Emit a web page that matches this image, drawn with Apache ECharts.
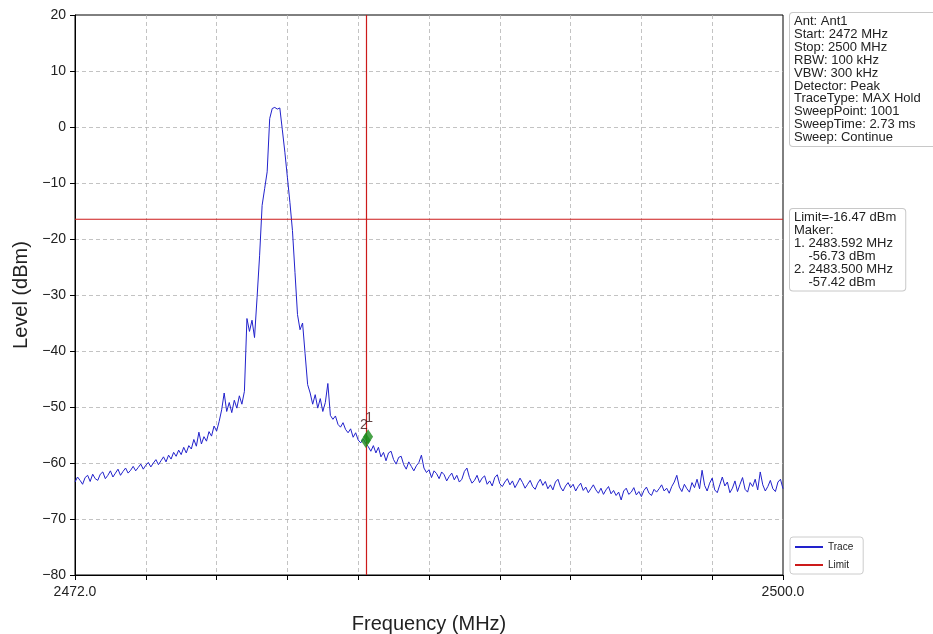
<!DOCTYPE html>
<html>
<head>
<meta charset="utf-8">
<script src="https://cdn.jsdelivr.net/npm/echarts@6/dist/echarts.min.js"></script>
<style>html,body{margin:0;padding:0;background:#fff}#c{width:933px;height:634px}</style>
</head>
<body>
<div id="c"></div>
<script>
// ---- data ----
const freqStart = 2472.0;
const freqStep = 0.1; // MHz between trace samples
const traceLevels = [
-63.4,-62.5,-63.1,-63.8,-62.6,-62.2,-63.3,-62.0,-62.8,-63.1,
-62.0,-61.6,-62.8,-62.2,-61.4,-62.5,-61.8,-61.1,-62.2,-61.5,
-60.9,-61.8,-61.3,-60.6,-61.4,-60.8,-60.2,-61.1,-60.4,-59.9,
-60.7,-60.0,-59.4,-60.3,-59.6,-58.9,-59.8,-58.6,-59.3,-58.1,
-58.8,-57.7,-58.5,-57.2,-58.2,-56.9,-57.5,-55.8,-57.0,-54.5,
-56.6,-55.3,-56.1,-54.4,-55.2,-53.4,-54.3,-52.6,-50.5,-47.5,
-50.8,-49.2,-51.0,-48.8,-50.2,-48.0,-49.5,-47.2,-34.2,-36.5,
-34.5,-37.6,-30.5,-23.0,-14.0,-11.0,-8.0,1.5,3.3,3.5,
3.2,3.4,-0.5,-4.5,-9.0,-13.5,-18.5,-26.0,-33.5,-36.2,
-35.0,-40.5,-46.0,-47.5,-49.5,-47.8,-50.2,-48.5,-50.8,-49.2,
-45.8,-51.5,-52.2,-51.6,-53.1,-53.6,-52.8,-54.0,-54.6,-53.9,
-55.4,-54.6,-55.9,-56.4,-55.7,-56.5,-57.1,-57.9,-56.9,-58.2,
-57.2,-58.9,-58.1,-59.6,-58.2,-57.9,-59.4,-60.2,-59.0,-58.8,
-60.3,-61.1,-59.8,-60.6,-61.4,-60.5,-59.9,-58.6,-60.9,-61.7,
-61.2,-62.6,-61.4,-61.9,-62.8,-61.6,-62.1,-63.2,-62.4,-61.8,
-63.0,-62.2,-63.4,-62.9,-61.5,-60.9,-62.6,-63.6,-63.1,-62.2,
-63.5,-62.7,-62.3,-63.8,-63.2,-64.1,-62.6,-62.1,-63.7,-64.2,
-63.4,-62.8,-63.9,-63.2,-64.4,-63.6,-62.7,-63.5,-64.5,-63.8,
-63.1,-64.2,-64.7,-63.6,-62.9,-64.0,-63.3,-64.6,-63.9,-64.8,
-63.4,-62.9,-64.3,-65.0,-64.1,-63.5,-64.4,-63.8,-65.0,-64.2,
-63.6,-64.9,-64.3,-65.3,-64.6,-63.9,-64.8,-65.4,-64.5,-65.6,
-64.8,-64.2,-65.5,-64.9,-65.8,-65.2,-66.6,-65.0,-64.5,-65.6,
-65.2,-64.4,-65.7,-65.1,-66.0,-64.9,-64.3,-65.4,-65.8,-64.7,
-65.2,-64.6,-63.9,-65.0,-64.5,-65.4,-64.2,-63.4,-62.2,-64.3,
-65.1,-63.8,-64.6,-65.2,-63.5,-64.4,-62.9,-64.6,-61.3,-64.0,
-65.0,-63.6,-62.7,-64.8,-65.3,-63.9,-62.5,-64.1,-63.4,-65.3,
-64.5,-63.2,-65.1,-63.8,-62.6,-64.7,-65.2,-63.5,-64.2,-62.9,
-64.8,-61.6,-63.9,-65.0,-64.2,-63.1,-64.6,-65.1,-63.4,-62.9,
-64.6
];
const limitLevel = -16.47;
const markerFreqLine = 2483.5;
const markerNames = ['1', '2'];
const markerFreqs = [2483.592, 2483.500];
const markerLevels = [-56.73, -57.42];
const xMin = 2472, xMax = 2500;
const xTickLabels = ['2472.0', '', '', '', '', '', '', '', '', '', '2500.0'];
const yMin = -80, yMax = 20, yStep = 10;
const infoLines = ['Ant: Ant1', 'Start: 2472 MHz', 'Stop: 2500 MHz', 'RBW: 100 kHz', 'VBW: 300 kHz',
  'Detector: Peak', 'TraceType: MAX Hold', 'SweepPoint: 1001', 'SweepTime: 2.73 ms', 'Sweep: Continue'];
const limitLines = ['Limit=-16.47 dBm', 'Maker:', '1. 2483.592 MHz', '    -56.73 dBm', '2. 2483.500 MHz', '    -57.42 dBm'];

// ---- build ----
const traceData = traceLevels.map((v, i) => [+(freqStart + i * freqStep).toFixed(2), v]);
const markerLabelOffsets = [[1, -3], [-2, 0]];
const markerData = markerFreqs.map((f, i) => ({
  value: [f, markerLevels[i]], name: markerNames[i],
  label: { offset: markerLabelOffsets[i] }
}));
const FONT = '"Liberation Sans", Arial, sans-serif';
const gridLine = { show: true, showMinLine: false, showMaxLine: false, lineStyle: { color: '#b4b4b4', type: [4, 3], width: 0.8 } };

const chart = echarts.init(document.getElementById('c'), null, { renderer: 'canvas' });
chart.setOption({
  backgroundColor: '#fff',
  animation: false,
  grid: { left: 75, right: 150, top: 15, bottom: 59, containLabel: false, outerBoundsMode: 'none',
    show: true, borderColor: '#000', borderWidth: 1, backgroundColor: 'transparent' },
  xAxis: [
    { type: 'value', min: xMin, max: xMax, show: false },
    {
      type: 'value', min: 0, max: xTickLabels.length - 1, interval: 1, position: 'bottom',
      axisLine: { show: true, lineStyle: { color: '#000', width: 1 } },
      axisTick: { show: true, inside: false, length: 5, lineStyle: { color: '#000' } },
      axisLabel: { color: '#222', fontFamily: FONT, fontSize: 14, margin: 10, formatter: v => xTickLabels[Math.round(v)] || '' },
      splitLine: gridLine,
      name: 'Frequency (MHz)', nameLocation: 'middle', nameGap: 39,
      nameTextStyle: { color: '#222', fontFamily: FONT, fontSize: 20 }
    }
  ],
  yAxis: {
    type: 'value', min: yMin, max: yMax, interval: yStep,
    axisLine: { show: true, lineStyle: { color: '#000', width: 1 } },
    axisTick: { show: true, inside: false, length: 5, lineStyle: { color: '#000' } },
    axisLabel: { color: '#222', fontFamily: FONT, fontSize: 14, margin: 9, formatter: v => String(v).replace('-', '\u2212') },
    splitLine: gridLine,
    name: 'Level (dBm)', nameLocation: 'middle', nameGap: 43,
    nameTextStyle: { color: '#222', fontFamily: FONT, fontSize: 20 }
  },
  legend: {
    data: ['Trace', 'Limit'], orient: 'vertical', left: 790, top: 537,
    icon: 'rect', itemWidth: 28, itemHeight: 2, itemGap: 8,
    backgroundColor: '#fff', borderColor: '#ccc', borderWidth: 1, borderRadius: 3,
    padding: [5, 10, 4, 5],
    textStyle: { fontFamily: FONT, fontSize: 10, color: '#222' }
  },
  series: [
    {
      name: 'Trace', type: 'line', xAxisIndex: 0, data: traceData, showSymbol: false, symbol: 'none',
      lineStyle: { color: '#2222cc', width: 1 }, itemStyle: { color: '#2222cc' }, z: 3
    },
    {
      name: 'Limit', type: 'line', xAxisIndex: 0, data: [[xMin, limitLevel], [xMax, limitLevel]], symbol: 'none',
      lineStyle: { color: '#cc1a1a', width: 1.2 }, itemStyle: { color: '#cc1a1a' }, z: 4,
      markLine: {
        silent: true, symbol: 'none', label: { show: false },
        lineStyle: { color: '#cc1a1a', width: 1.2, type: 'solid' },
        data: [{ xAxis: markerFreqLine }]
      }
    },
    {
      name: 'Marker', type: 'scatter', xAxisIndex: 0, data: markerData, symbol: 'diamond',
      symbolSize: [10, 15], symbolOffset: [0, -8], itemStyle: { color: '#1b8c1b' }, z: 5,
      label: { show: true, position: 'top', distance: 1, formatter: p => p.name,
        color: '#3a1414', fontFamily: FONT, fontSize: 14 }
    }
  ],
  graphic: [
    {
      type: 'text', left: 789, top: 12, z: 10,
      style: {
        text: infoLines.join('\n'), font: '13px ' + FONT, fill: '#222', lineHeight: 12.9,
        backgroundColor: '#fff', borderColor: '#c8c8c8', borderWidth: 1, borderRadius: 3,
        padding: [2, 20, 2, 4]
      }
    },
    {
      type: 'text', left: 789, top: 208, z: 10,
      style: {
        text: limitLines.join('\n'), font: '13px ' + FONT, fill: '#222', lineHeight: 12.9,
        backgroundColor: '#fff', borderColor: '#c8c8c8', borderWidth: 1, borderRadius: 3,
        padding: [2, 9, 2, 4]
      }
    }
  ]
});
</script>
</body>
</html>
